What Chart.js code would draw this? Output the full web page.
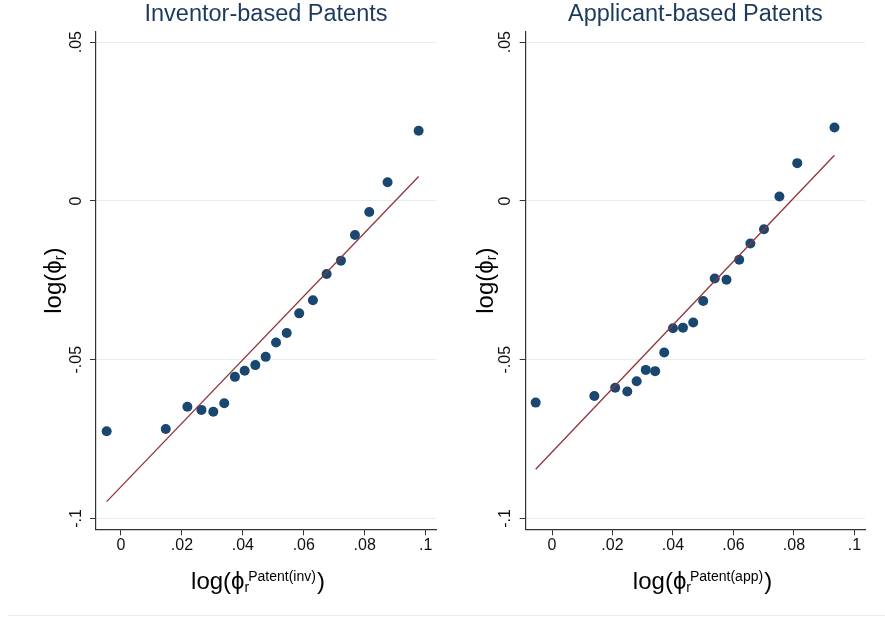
<!DOCTYPE html>
<html>
<head>
<meta charset="utf-8">
<script src="https://cdn.jsdelivr.net/npm/chart.js@4.4.1/dist/chart.umd.min.js"></script>
<style>
  html, body { margin: 0; padding: 0; background: #fff; }
  #wrap { position: relative; width: 885px; height: 617px; overflow: hidden; }
  #left { position: absolute; left: 0; top: 0; }
  #right { position: absolute; left: 442px; top: 0; }
  #rule { position: absolute; left: 8px; right: 0; top: 615px; border-top: 1px solid #e6eef0; }
</style>
</head>
<body>
<div id="wrap">
  <canvas id="left" width="442" height="617"></canvas>
  <canvas id="right" width="443" height="617"></canvas>
  <div id="rule"></div>
</div>
<script>
// inventor-based panel
const invX = [-0.0047, 0.0147, 0.0218, 0.0264, 0.0303, 0.0339, 0.0374, 0.0406, 0.0441, 0.0475,
              0.0509, 0.0544, 0.0585, 0.0630, 0.0675, 0.0722, 0.0768, 0.0815, 0.0875, 0.0977];
const invY = [-0.0725, -0.0718, -0.0648, -0.0658, -0.0664, -0.0637, -0.0554, -0.0535, -0.0517, -0.0491,
              -0.0446, -0.0416, -0.0354, -0.0313, -0.0230, -0.0188, -0.0107, -0.0035, 0.0059, 0.0221];
const invFitX = [-0.0047, 0.0977];
const invFitY = [-0.0947, 0.0077];

// applicant-based panel
const appX = [-0.0054, 0.0140, 0.0209, 0.0249, 0.0280, 0.0310, 0.0341, 0.0371, 0.0400, 0.0433,
              0.0467, 0.0500, 0.0538, 0.0577, 0.0619, 0.0656, 0.0701, 0.0752, 0.0811, 0.0934];
const appY = [-0.0635, -0.0614, -0.0588, -0.0600, -0.0568, -0.0532, -0.0536, -0.0477, -0.0401, -0.0399,
              -0.0383, -0.0315, -0.0244, -0.0248, -0.0185, -0.0134, -0.0089, 0.0014, 0.0119, 0.0231];
const appFitX = [-0.0054, 0.0934];
const appFitY = [-0.0845, 0.0144];

// axis ticks
const xTicks = [0, 0.02, 0.04, 0.06, 0.08, 0.1];
const yTicks = [-0.1, -0.05, 0, 0.05];

const FONT = "'Liberation Sans', Arial, Helvetica, sans-serif";
const PHI = 'ϕ';
Chart.defaults.font.family = FONT;

// axis titles need sub/superscripts, so draw them by hand
const axisTitles = {
  id: 'axisTitles',
  afterDraw(chart, args, o) {
    const ctx = chart.ctx;
    const area = chart.chartArea;
    const big = '24px ' + FONT, small = '14px ' + FONT;
    const head = 'log(' + PHI;
    ctx.save();
    ctx.fillStyle = '#000';
    ctx.textAlign = 'left';
    ctx.textBaseline = 'alphabetic';

    ctx.font = big;
    const wHead = ctx.measureText(head).width;
    const wClose = ctx.measureText(')').width;
    ctx.font = small;
    const wR = ctx.measureText('r').width;
    const wSup = ctx.measureText(o.sup).width;

    // x title
    let x = o.xCenter - (wHead + wR - 1 + wSup + 1 + wClose) / 2;
    const b = o.xBaseline;
    ctx.font = big;
    ctx.fillText(head, x, b);
    x += wHead;
    ctx.font = small;
    ctx.fillText('r', x, b + 3);
    ctx.fillText(o.sup, x + wR - 1, b - 8);
    ctx.font = big;
    ctx.fillText(')', x + wR - 1 + wSup + 1, b);

    // y title, rotated
    ctx.translate(o.yBaseline, (area.top + area.bottom) / 2);
    ctx.rotate(-Math.PI / 2);
    const yx = -(wHead + wR + wClose) / 2;
    ctx.font = big;
    ctx.fillText(head, yx, 0);
    ctx.font = small;
    ctx.fillText('r', yx + wHead, 3);
    ctx.font = big;
    ctx.fillText(')', yx + wHead + wR, 0);
    ctx.restore();
  }
};

const fmt = v => v === 0 ? '0' : String(v).replace('0.', '.');

function drawPanel(id, cfg) {
  new Chart(document.getElementById(id), {
    type: 'scatter',
    data: {
      datasets: [
        {
          data: cfg.fitX.map((x, i) => ({ x: x, y: cfg.fitY[i] })),
          showLine: true,
          borderColor: '#903539',
          borderWidth: 1.3,
          pointRadius: 0
        },
        {
          data: cfg.x.map((x, i) => ({ x: x, y: cfg.y[i] })),
          backgroundColor: '#1a476f',
          borderWidth: 0,
          pointRadius: 5
        }
      ]
    },
    options: {
      responsive: false,
      animation: false,
      devicePixelRatio: 1,
      layout: { padding: { left: 0, right: cfg.padRight, top: 0, bottom: 0 } },
      plugins: {
        legend: { display: false },
        tooltip: { enabled: false },
        title: {
          display: true,
          text: cfg.title,
          color: '#1c3a5e',
          fullSize: false,
          font: { size: 23.5, weight: 'normal', lineHeight: 1.2 },
          padding: { top: 0, bottom: 3.8 }
        },
        axisTitles: { sup: cfg.sup, xCenter: cfg.xTitleCenter, xBaseline: 589, yBaseline: cfg.yTitleX }
      },
      scales: {
        x: {
          type: 'linear',
          min: cfg.xMin,
          max: cfg.xMax,
          afterBuildTicks: s => { s.ticks = xTicks.map(v => ({ value: v })); },
          afterFit: s => { s.height = 87.7; },
          ticks: { callback: fmt, color: '#111', font: { size: 16 }, padding: 1, maxRotation: 0, autoSkip: false },
          grid: { drawOnChartArea: false, tickLength: 6, tickColor: '#333', tickWidth: 1 },
          border: { color: '#333', width: 1.2 }
        },
        y: {
          type: 'linear',
          min: -0.1034,
          max: 0.0532,
          afterBuildTicks: s => { s.ticks = yTicks.map(v => ({ value: v })); },
          afterFit: s => { s.width = cfg.yAxisWidth; },
          ticks: { callback: fmt, color: '#111', font: { size: 16 }, padding: 0, minRotation: 90, maxRotation: 90, crossAlign: 'center', autoSkip: false },
          grid: { color: '#e4eef0', lineWidth: 1, tickLength: 6, tickColor: '#333', tickWidth: 1 },
          border: { color: '#333', width: 1.2 }
        }
      }
    },
    plugins: [axisTitles]
  });
}

drawPanel('left', {
  title: 'Inventor-based Patents',
  sup: 'Patent(inv)',
  x: invX, y: invY, fitX: invFitX, fitY: invFitY,
  xMin: -0.0082, xMax: 0.1034,
  yAxisWidth: 96, padRight: 6,
  xTitleCenter: 258, yTitleX: 61
});

drawPanel('right', {
  title: 'Applicant-based Patents',
  sup: 'Patent(app)',
  x: appX, y: appY, fitX: appFitX, fitY: appFitY,
  xMin: -0.0087, xMax: 0.1035,
  yAxisWidth: 83.7, padRight: 20,
  xTitleCenter: 260.5, yTitleX: 51
});
</script>
</body>
</html>
